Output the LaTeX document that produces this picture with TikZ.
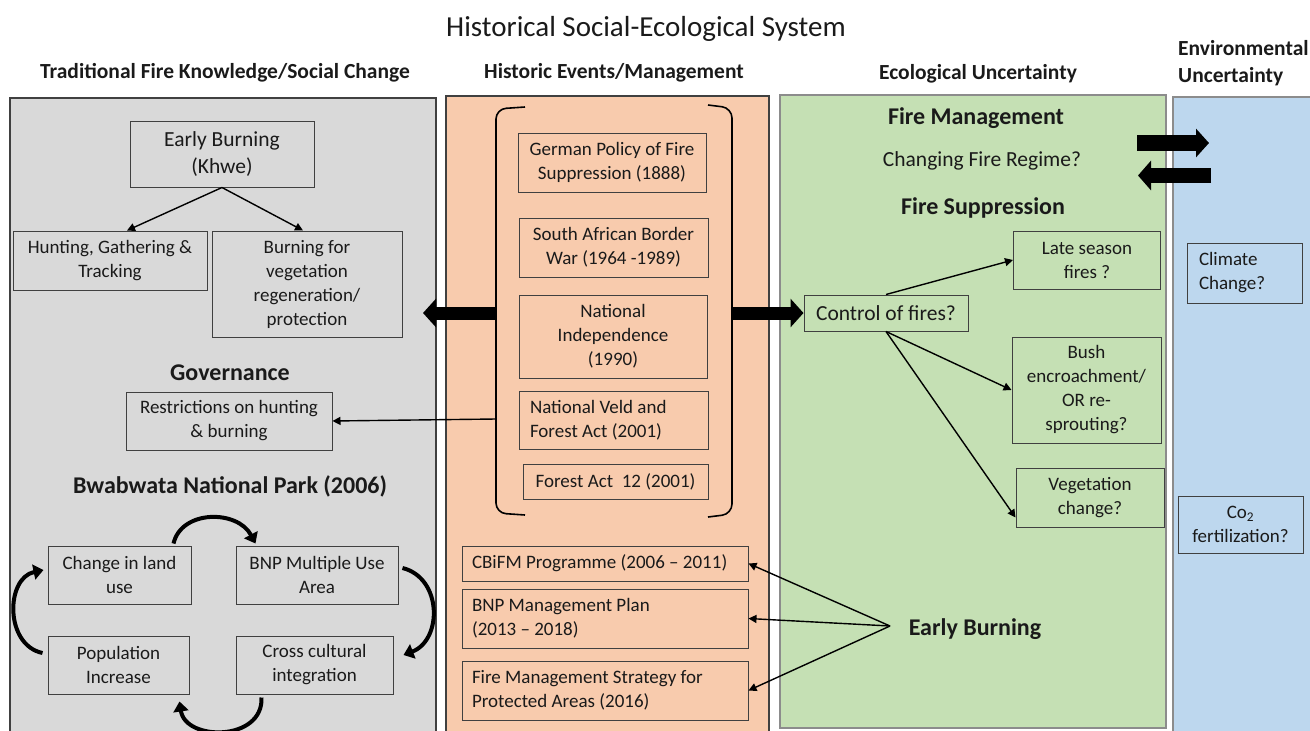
\documentclass[tikz,border=0pt]{standalone}
\usepackage{fontspec}
\setmainfont{Carlito}
\usetikzlibrary{arrows.meta,calc}
\definecolor{greyfill}{HTML}{D9D9D9}
\definecolor{orangefill}{HTML}{F8CBAD}
\definecolor{greenfill}{HTML}{C5E0B4}
\definecolor{bluefill}{HTML}{BDD7EE}
\definecolor{panelline}{HTML}{404040}
\definecolor{lightline}{HTML}{8C8C8C}
\definecolor{boxline}{HTML}{404040}
\definecolor{txt}{HTML}{1A1A1A}
\begin{document}
\begin{tikzpicture}[x=1pt,y=-1pt,
  box/.style={draw=boxline, line width=1pt, align=center, inner sep=0pt, text=txt,
    font=\fontsize{19}{24}\selectfont},
  lbox/.style={box, align=flush left, inner xsep=10pt},
  bigbox/.style={box, font=\fontsize{21.5}{27}\selectfont},
  head/.style={text=txt, font=\bfseries\fontsize{21.5}{27}\selectfont, inner sep=0pt},
  section/.style={text=txt, font=\bfseries\fontsize{24}{29}\selectfont, inner sep=0pt},
  plain/.style={text=txt, font=\fontsize{21.5}{27}\selectfont, inner sep=0pt},
  thin/.style={draw=black, line width=1.4pt, -{Triangle[length=8pt,width=8pt]}},
  block/.style={draw=black, line width=13pt, -{Triangle[length=13pt,width=28pt]}},
  curv/.style={draw=black, line width=4pt, -{Triangle[length=10pt,width=15pt]}},
  bracketline/.style={draw=black, line width=1.6pt, rounded corners=10pt}
]
\useasboundingbox (0,0) rectangle (1310,731);

% panels
\filldraw[fill=greyfill, draw=panelline, line width=1.2pt] (10,98) rectangle (436,735);
\filldraw[fill=orangefill, draw=panelline, line width=1.2pt] (446,96) rectangle (769,735);
\filldraw[fill=greenfill, draw=lightline, line width=1.2pt] (780,95) rectangle (1166,728);
\filldraw[fill=bluefill, draw=lightline, line width=1.2pt] (1173,97) rectangle (1315,735);

% headings
\node[text=txt, font=\fontsize{29}{34}\selectfont, inner sep=0pt] (title) at (646,29) {Historical Social-Ecological System};
\node[head] (h1) at (225,73) {Traditional Fire Knowledge/Social Change};
\node[head] (h2) at (614,73) {Historic Events/Management};
\node[head] (h3) at (978,74) {Ecological Uncertainty};
\node[head, anchor=west, align=left] (h4) at (1178,63) {Environmental\\Uncertainty};

% left panel
\node[bigbox, minimum width=184pt, minimum height=66pt] (early) at (222,154) {Early Burning\\(Khwe)};
\node[box, minimum width=194pt, minimum height=59pt] (hunt) at (110,260.5) {Hunting, Gathering \&\\Tracking};
\node[box, minimum width=190pt, minimum height=106pt] (burn) at (307,284) {Burning for\\vegetation\\regeneration/\\protection};
\node[section] (gov) at (230,373) {Governance};
\node[box, minimum width=206pt, minimum height=58pt] (restr) at (229,421) {Restrictions on hunting\\\& burning};
\node[section] (bwa) at (230,486) {Bwabwata National Park (2006)};
\node[box, minimum width=143pt, minimum height=58pt] (chg) at (119.5,575) {Change in land\\use};
\node[box, minimum width=162pt, minimum height=58pt] (bnpm) at (317,575) {BNP Multiple Use\\Area};
\node[box, minimum width=141pt, minimum height=58pt] (pop) at (118.5,665) {Population\\Increase};
\node[box, minimum width=157pt, minimum height=58pt] (cross) at (314.5,665) {Cross cultural\\integration};

\draw[thin] (early.south) -- ($(hunt.north)+(17,0)$);
\draw[thin] (early.south) -- ($(burn.north)+(-4,0)$);

\draw[curv] ($(chg.north east)+(-18,-2)$) .. controls +(8,-34) and +(-18,-34) .. ($(bnpm.north west)+(20,-2)$);
\draw[curv] ($(bnpm.east)+(4,-7)$) .. controls +(40,10) and +(39,-15) .. ($(cross.east)+(10,-10)$);
\draw[curv] ($(cross.south west)+(26,3)$) .. controls +(2,44) and +(6,40) .. ($(pop.south east)+(-10,7)$);
\draw[curv] ($(pop.west)+(-5,-12)$) .. controls +(-38,-8) and +(-38,8) .. ($(chg.west)+(-4,-5)$);

% middle panel
\draw[bracketline] (525,107) -- (496,109) -- (496,513) -- (525,515);
\draw[bracketline] (708,105) -- (732,108) -- (732,514) -- (708,517);
\coordinate (brL) at (496,313);
\coordinate (brR) at (732,313);
\coordinate (brL2) at (496,419);
\coordinate (leftTip) at (423,313);

\node[box, minimum width=188pt, minimum height=59pt] (german) at (612,162.5) {German Policy of Fire\\Suppression (1888)};
\node[box, minimum width=189pt, minimum height=59pt] (sa) at (613.5,247.5) {South African Border\\War (1964 -1989)};
\node[box, minimum width=188pt, minimum height=83pt] (ni) at (613,336.5) {National\\Independence\\(1990)};
\node[lbox, inner xsep=11pt, text width=167pt, minimum height=58pt] (nvfa) at (613.5,420) {National Veld and\\Forest Act (2001)};
\node[box, minimum width=185pt, minimum height=35pt] (fa12) at (615.5,481.5) {Forest Act\ \ 12 (2001)};

\node[lbox, text width=266pt, minimum height=35pt] (cbifm) at (605,563.5) {CBiFM Programme (2006 -- 2011)};
\node[lbox, text width=266pt, minimum height=59pt] (bnpplan) at (605,618.5) {BNP Management Plan\\(2013 -- 2018)};
\node[lbox, text width=266pt, minimum height=59pt] (fms) at (605,690.5) {Fire Management Strategy for\\Protected Areas (2016)};

\draw[block] (brL) -- (leftTip);
\draw[thin] (brL2) -- (restr.east);

% green panel
\node[section] (fm) at (976,118) {Fire Management};
\node[plain] (cfr) at (982,161) {Changing Fire Regime?};
\node[section] (fs) at (983,208) {Fire Suppression};
\node[bigbox, minimum width=164pt, minimum height=36pt] (control) at (886,313) {Control of fires?};
\node[box, minimum width=147pt, minimum height=58pt] (late) at (1087,260) {Late season\\fires ?};
\node[box, minimum width=149pt, minimum height=106pt] (bush) at (1086.5,390) {Bush\\encroachment/\\OR re-\\sprouting?};
\node[box, minimum width=148pt, minimum height=59pt] (veg) at (1090,497.5) {Vegetation\\change?};

\draw[block] (brR) -- (control.west);
\draw[thin] (control.north) -- (late.west);
\draw[thin] (control.south) -- (bush.west);
\draw[thin] (control.south) -- ($(veg.south west)+(0,-10)$);

\node[section] (eb) at (975,629) {Early Burning};
\coordinate (ebp) at (890,626);
\draw[thin] (ebp) -- (cbifm.east);
\draw[thin] (ebp) -- (bnpplan.east);
\draw[thin] (ebp) -- (fms.east);

% green-blue arrows
\coordinate (ra1) at (1137,143);
\coordinate (ra2) at (1209,143);
\coordinate (la1) at (1211,175.5);
\coordinate (la2) at (1138,175.5);
\draw[draw=black, line width=16pt, -{Triangle[length=13pt,width=28pt]}] (ra1) -- (ra2);
\draw[draw=black, line width=15pt, -{Triangle[length=13pt,width=29pt]}] (la1) -- (la2);

% blue panel
\node[lbox, inner xsep=12pt, text width=91pt, minimum height=60pt] (climate) at (1244.5,273) {Climate\\Change?};
\node[box, minimum width=125pt, minimum height=57pt] (co2) at (1240.5,524.5) {Co\textsubscript{2}\\fertilization?};
\end{tikzpicture}
\end{document}
